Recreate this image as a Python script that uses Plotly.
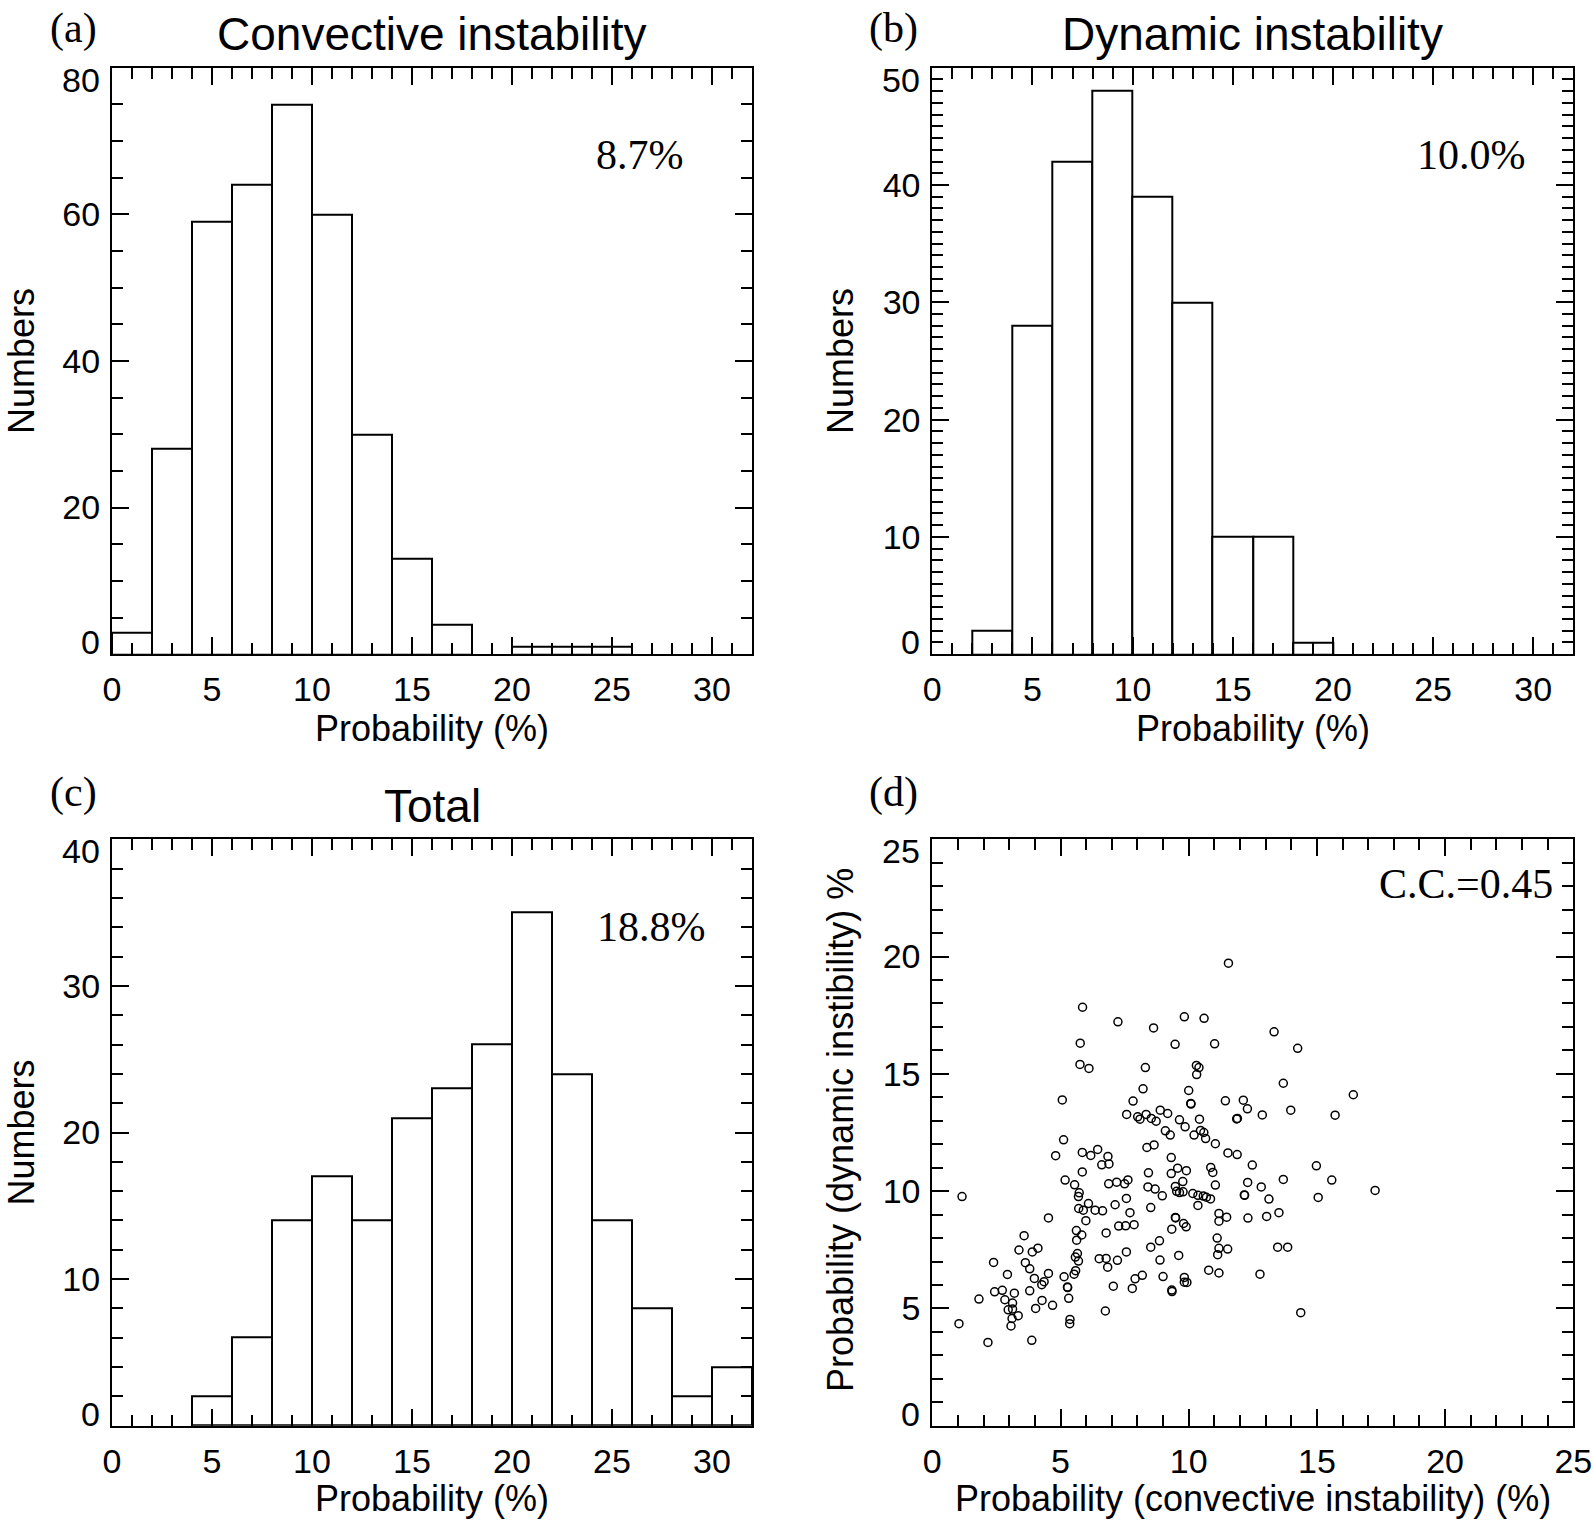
import numpy as np
import plotly.graph_objects as go

W, H = 1594, 1524

# ---------------- data ----------------
bin_left = [0, 2, 4, 6, 8, 10, 12, 14, 16, 18, 20, 22, 24, 26, 28, 30]
bin_width = 2
conv_counts = [3, 28, 59, 64, 75, 60, 30, 13, 4, 0, 1, 1, 1, 0, 0, 0]
dyn_counts = [0, 2, 28, 42, 48, 39, 30, 10, 10, 1, 0, 0, 0, 0, 0, 0]
total_counts = [0, 0, 2, 6, 14, 17, 14, 21, 23, 26, 35, 24, 14, 8, 2, 4]

conv_prob = [5.77, 9.47, 11.01, 14.25, 5.76, 6.11, 8.31, 10.30, 10.40, 10.31,
             13.69, 8.22, 10.00, 16.42, 5.07, 7.83, 10.08, 10.09, 11.43, 12.13,
             12.29, 13.98, 7.58, 8.01, 8.10, 8.34, 8.54, 8.73, 8.89, 9.18,
             9.64, 9.86, 10.42, 11.87, 11.90, 12.87, 15.71, 9.09, 9.28, 10.21,
             10.46, 10.59, 10.66, 11.04, 5.12, 4.81, 5.85, 6.18, 6.45, 6.85,
             6.61, 6.89, 8.37, 8.65, 9.32, 11.53, 11.89, 12.48, 14.98, 5.18,
             5.55, 5.85, 5.73, 5.70, 6.88, 7.19, 7.50, 7.63, 8.43, 8.41,
             8.69, 8.97, 9.32, 9.48, 9.57, 9.53, 9.64, 9.77, 9.78, 9.91,
             10.16, 10.36, 10.36, 10.57, 10.69, 10.85, 10.86, 10.94, 11.04, 12.17,
             12.18, 12.30, 12.83, 13.13, 13.69, 15.05, 15.58, 17.27, 1.16, 4.53,
             5.71, 5.89, 6.09, 6.35, 6.64, 7.13, 7.57, 7.71, 5.99, 8.52,
             11.18, 11.48, 11.18, 12.31, 13.04, 13.52, 5.62, 5.83, 5.63, 6.78,
             7.27, 7.54, 7.87, 9.34, 9.48, 9.49, 9.80, 9.90, 3.58, 3.38,
             3.90, 4.12, 3.63, 3.80, 4.53, 3.98, 4.27, 4.36, 2.93, 2.39,
             5.66, 5.58, 5.70, 5.59, 5.53, 5.14, 5.27, 5.28, 6.51, 6.78,
             6.84, 7.22, 7.57, 8.52, 8.86, 8.88, 9.61, 11.11, 11.18, 11.52,
             11.13, 13.47, 13.86, 8.19, 7.91, 9.00, 9.83, 9.83, 9.93, 10.78,
             11.18, 12.78, 7.06, 7.80, 9.34, 9.35, 2.43, 2.73, 3.20, 1.82,
             2.83, 3.13, 2.96, 3.13, 4.03, 3.80, 4.28, 4.69, 3.35, 3.11,
             3.07, 5.32, 5.37, 5.36, 6.75, 14.37, 1.04, 2.17, 3.88, 5.86,
             7.24, 8.63, 9.83, 10.60, 11.55, 13.33]
dyn_prob = [16.31, 16.26, 16.28, 16.09, 15.40, 15.23, 15.27, 15.36, 15.27, 14.97,
            14.60, 14.36, 14.29, 14.11, 13.89, 13.84, 13.74, 13.71, 13.85, 13.88,
            13.51, 13.45, 13.27, 13.17, 13.07, 13.27, 13.10, 12.98, 13.45, 13.31,
            13.04, 12.74, 13.07, 13.08, 13.10, 13.25, 13.24, 12.57, 12.39, 12.39,
            12.59, 12.50, 12.24, 12.02, 12.19, 11.51, 11.65, 11.52, 11.78, 11.48,
            11.12, 11.16, 11.86, 11.97, 11.43, 11.63, 11.56, 11.11, 11.08, 10.47,
            10.27, 10.82, 9.93, 9.77, 10.31, 10.38, 10.31, 10.48, 10.78, 10.18,
            10.09, 9.80, 10.75, 10.20, 10.98, 9.99, 9.94, 10.41, 9.97, 10.87,
            9.90, 9.82, 9.39, 9.79, 9.74, 9.67, 11.01, 10.80, 10.26, 9.84,
            9.82, 10.37, 10.18, 9.66, 10.50, 9.73, 10.47, 10.03, 9.77, 8.86,
            9.26, 9.19, 9.47, 9.19, 9.16, 9.42, 9.69, 9.08, 8.74, 9.30,
            9.05, 8.89, 8.72, 8.85, 8.92, 9.08, 8.32, 8.13, 7.91, 8.22,
            8.51, 8.52, 8.57, 8.38, 8.88, 8.86, 8.62, 8.48, 8.10, 7.49,
            7.41, 7.57, 6.95, 6.69, 6.49, 6.28, 6.01, 6.14, 6.45, 6.96,
            7.34, 7.19, 7.02, 6.61, 6.46, 6.35, 5.91, 5.89, 7.12, 7.13,
            6.76, 7.05, 7.41, 7.61, 7.88, 7.06, 7.26, 8.00, 7.56, 7.53,
            7.29, 7.61, 7.61, 6.41, 6.26, 6.36, 6.32, 6.12, 6.11, 6.63,
            6.51, 6.46, 5.95, 5.85, 5.78, 5.72, 5.71, 5.77, 5.65, 5.40,
            5.37, 5.23, 4.94, 4.97, 5.00, 5.75, 5.34, 5.13, 4.69, 4.57,
            4.25, 5.43, 4.53, 4.35, 4.89, 4.82, 4.35, 3.55, 3.64, 17.84,
            17.22, 16.96, 17.43, 17.37, 19.72, 16.79]

hist_xticks = [0, 5, 10, 15, 20, 25, 30]
a_yticks = [0, 20, 40, 60, 80]
b_yticks = [0, 10, 20, 30, 40, 50]
c_yticks = [0, 10, 20, 30, 40]
d_ticks = [0, 5, 10, 15, 20, 25]

titles = ["Convective instability", "Dynamic instability", "Total"]
panel_labels = ["(a)", "(b)", "(c)", "(d)"]
mean_texts = ["8.7%", "10.0%", "18.8%"]
cc_text = "C.C.=0.45"

# ---------------- layout geometry (pixels) ----------------
cols = [(112.0, 752.0), (932.3, 1573.3)]
rows = [(67.7, 654.2), (839.3, 1425.7)]


def fx(p):
    return p / W


def fy(p):
    return 1 - p / H


SANS = "Liberation Sans"
SERIF = "Liberation Serif"
TICKFONT = dict(family=SANS, size=34, color="black")

fig = go.Figure()

centers = [b + bin_width / 2 for b in bin_left]


def bar_trace(counts, xa, ya):
    # empty bins get no outline (only the axis line is visible there)
    widths = [2 if v > 0 else 0 for v in counts]
    return go.Bar(x=centers, y=counts, xaxis=xa, yaxis=ya, width=bin_width,
                  marker=dict(color="white", line=dict(color="black", width=widths)),
                  showlegend=False, hoverinfo="x+y")


fig.add_trace(bar_trace(conv_counts, "x", "y"))
fig.add_trace(bar_trace(dyn_counts, "x2", "y2"))
fig.add_trace(bar_trace(total_counts, "x3", "y3"))
fig.add_trace(go.Scatter(x=conv_prob, y=dyn_prob, mode="markers", xaxis="x4", yaxis="y4",
                         marker=dict(symbol="circle-open", size=8, color="black",
                                     line=dict(color="black", width=1.5)),
                         showlegend=False))


def axis(domain, rng, tickvals, ticktext, minor_dtick, is_y):
    d = dict(domain=domain, range=rng, showline=True, linecolor="black", linewidth=2,
             mirror="ticks", ticks="inside", ticklen=17, tickwidth=2, tickcolor="black",
             showgrid=False, zeroline=False, tickfont=TICKFONT, automargin=False,
             tickmode="array", tickvals=tickvals, ticktext=ticktext,
             minor=dict(ticks="inside", ticklen=11, tickwidth=2, tickcolor="black",
                        tickmode="linear", tick0=0, dtick=minor_dtick, showgrid=False),
             fixedrange=True)
    d["ticklabelstandoff"] = 3 if is_y else 4
    return d


def ylab(ticks):
    return [""] + [str(t) for t in ticks[1:-1]] + [""]


layout_axes = {}
panels = [
    # (col,row, xrange, xticks, xminor, yrange, yticks, yminor)
    (0, 0, [0, 32], hist_xticks, 1, [0, 80], a_yticks, 5),
    (1, 0, [0, 32], hist_xticks, 1, [0, 50], b_yticks, 1),
    (0, 1, [0, 32], hist_xticks, 1, [0, 40], c_yticks, 2),
    (1, 1, [0, 25], d_ticks, 1, [0, 25], d_ticks, 1),
]
for i, (c, r, xr, xt, xm, yr, yt, ym) in enumerate(panels):
    sfx = "" if i == 0 else str(i + 1)
    xd = [fx(cols[c][0]), fx(cols[c][1])]
    yd = [fy(rows[r][1]), fy(rows[r][0])]
    xa = axis(xd, xr, xt, [str(t) for t in xt], xm, False)
    xa["anchor"] = "y" + sfx
    ya = axis(yd, yr, yt, ylab(yt), ym, True)
    ya["anchor"] = "x" + sfx
    layout_axes["xaxis" + sfx] = xa
    layout_axes["yaxis" + sfx] = ya

annotations = []


def ann(text, x, y, size, family=SANS, **kw):
    d = dict(text=text, x=x, y=y, xref="paper", yref="paper", showarrow=False,
             font=dict(family=family, size=size, color="black"))
    d.update(kw)
    annotations.append(d)


# end labels of y axes (shifted inward like the original)
for i, (c, r, xr, xt, xm, yr, yt, ym) in enumerate(panels):
    sfx = "" if i == 0 else str(i + 1)
    for val, shift in ((yt[0], 12), (yt[-1], -12)):
        annotations.append(dict(text=str(val), x=0, xref="x" + sfx + " domain",
                                y=val, yref="y" + sfx, xanchor="right", yanchor="middle",
                                xshift=-10, yshift=shift, showarrow=False,
                                font=TICKFONT))

# panel letters
letter_pos = [(73, 28), (893, 28), (73, 792), (893, 792)]
for lab, (px, py) in zip(panel_labels, letter_pos):
    ann(lab, fx(px), fy(py), 42, SERIF, xanchor="center", yanchor="middle")

# titles
title_pos = [(432, 34), (1252.8, 34), (432, 806)]
for t, (px, py) in zip(titles, title_pos):
    ann(t, fx(px), fy(py), 46, SANS, xanchor="center", yanchor="middle")

# mean values
mean_pos = [(640, 155), (1471, 155), (651, 927)]
for t, (px, py) in zip(mean_texts, mean_pos):
    ann(t, fx(px), fy(py), 42, SERIF, xanchor="center", yanchor="middle")
ann(cc_text, fx(1465.5), fy(884), 42, SERIF, xanchor="center", yanchor="middle")

# axis titles
ann("Probability (%)", fx(432), fy(728), 36, xanchor="center", yanchor="middle")
ann("Probability (%)", fx(1252.8), fy(728), 36, xanchor="center", yanchor="middle")
ann("Probability (%)", fx(432), fy(1498.5), 36, xanchor="center", yanchor="middle")
ann("Probability (convective instability) (%)", fx(1252.8), fy(1498.5), 36,
    xanchor="center", yanchor="middle")
ann("Numbers", fx(21), fy(361), 36, xanchor="center", yanchor="middle", textangle=-90)
ann("Numbers", fx(840), fy(361), 36, xanchor="center", yanchor="middle", textangle=-90)
ann("Numbers", fx(21), fy(1132.5), 36, xanchor="center", yanchor="middle", textangle=-90)
ann("Probability (dynamic instibility) %", fx(840), fy(1130), 36,
    xanchor="center", yanchor="middle", textangle=-90)

fig.update_layout(
    width=W, height=H, margin=dict(l=0, r=0, t=0, b=0, pad=0, autoexpand=False),
    paper_bgcolor="white", plot_bgcolor="white",
    bargap=0, barmode="overlay", showlegend=False,
    annotations=annotations,
    font=dict(family=SANS, color="black"),
    **layout_axes,
)

fig.write_html("out.html",
               config={"displayModeBar": False},
               post_script="document.body.style.margin='0';"
                           "document.body.style.overflow='hidden';")
